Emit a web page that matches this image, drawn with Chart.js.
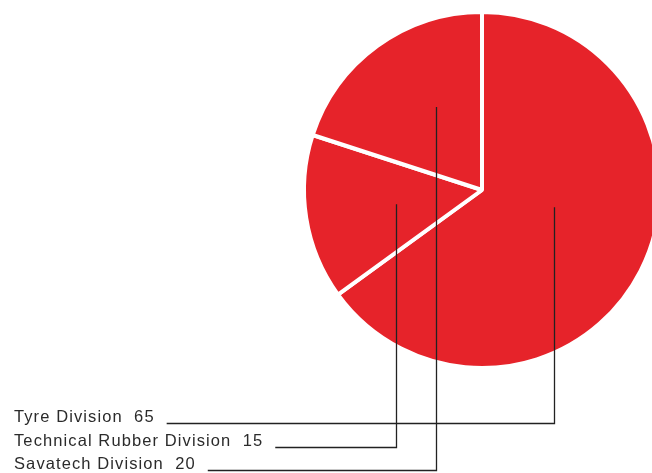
<!DOCTYPE html>
<html>
<head>
<meta charset="utf-8">
<script src="https://cdn.jsdelivr.net/npm/chart.js@4.4.0/dist/chart.umd.min.js"></script>
<style>
    html, body { margin: 0; padding: 0; background: #fff; overflow: hidden; }
    #wrap { position: relative; width: 700px; height: 473px; }
</style>
</head>
<body>
<div id="wrap"><canvas id="myChart"></canvas></div>
<script>
// divisions, clockwise from 12 o'clock
var divisions = ["Tyre Division", "Technical Rubber Division", "Savatech Division"];
var shares = [65, 15, 20];

// where each leader line ends inside the pie (fraction of radius from center)
var leaderAnchor = [[0.403, 0.097], [-0.483, 0.08], [-0.256, -0.466]];
var labelBaseline = [422, 446, 469];

var leaderPlugin = {
    id: 'leaders',
    afterDraw: function (chart) {
        var ctx = chart.ctx;
        var arcs = chart.getDatasetMeta(0).data;
        ctx.save();
        ctx.font = '16.5px "Liberation Sans", Arial, sans-serif';
        ctx.letterSpacing = '1.1px';
        ctx.textBaseline = 'alphabetic';
        for (var i = 0; i < divisions.length; i++) {
            var arc = arcs[i];
            var ax = arc.x + leaderAnchor[i][0] * arc.outerRadius;
            var ay = arc.y + leaderAnchor[i][1] * arc.outerRadius;
            var txt = divisions[i] + "  " + shares[i];
            var y = labelBaseline[i];
            ctx.fillStyle = '#2b2b2b';
            ctx.fillText(txt, 14, y);
            var w = ctx.measureText(txt).width;
            var ly = Math.round(y) + 1.5;
            ctx.strokeStyle = '#222';
            ctx.lineWidth = 1.3;
            ctx.beginPath();
            ctx.moveTo(14 + w + 12, ly);
            ctx.lineTo(Math.round(ax) + 0.5, ly);
            ctx.lineTo(Math.round(ax) + 0.5, ay);
            ctx.stroke();
        }
        ctx.restore();
    }
};

var canvas = document.getElementById('myChart');
var mychart = new Chart(canvas, {
    type: 'pie',
    data: {
        labels: divisions,
        datasets: [{
            data: shares,
            backgroundColor: '#e6232a',
            borderColor: '#ffffff',
            borderWidth: 4
        }]
    },
    options: {
        responsive: true,
        maintainAspectRatio: false,
        animation: false,
        layout: {
            padding: {left: 302, top: 10, right: 38, bottom: 103}
        },
        plugins: {
            legend: {display: false},
            tooltip: {enabled: false}
        }
    },
    plugins: [leaderPlugin]
});
</script>
</body>
</html>
